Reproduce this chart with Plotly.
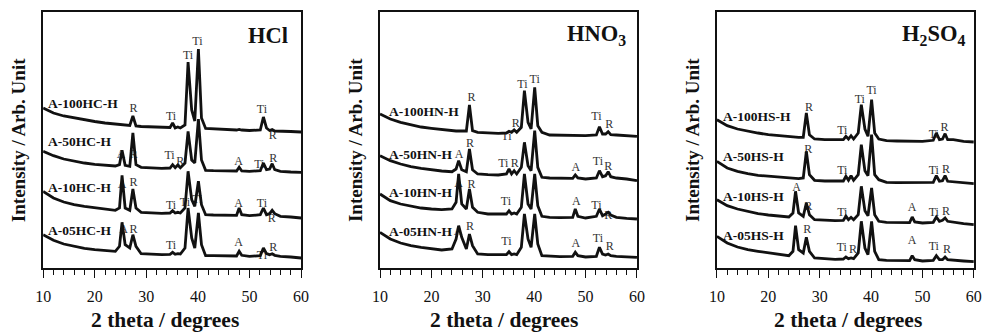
import plotly.graph_objects as go

# ---------------- data ----------------
two_theta = [10, 12, 14, 16, 18, 20, 22, 24, 24.8, 25.3, 25.9, 26.8, 27.4, 28, 29, 31, 33,
             34.6, 35.1, 35.6, 36.1, 36.6, 37.5, 38.1, 38.8, 39.4, 40.1, 40.7, 41.5, 43, 45,
             47.5, 48, 48.5, 50, 52.1, 52.7, 53.3, 53.9, 54.4, 54.9, 56, 58, 60]

hcl_100 = [160, 155, 152, 150, 148, 146.5, 145, 144, 143.5, 143.5, 143, 142.5, 152, 142, 141.5, 141, 140.5,
           140.5, 145, 140, 141, 140, 143, 206, 158, 147, 219, 150, 139.5, 139, 138.5,
           138, 138.5, 138, 137.5, 138, 151, 140, 137.5, 138.5, 137, 137, 136.5, 136]
hcl_50 = [116.7, 112.3, 109, 106.7, 105, 103.7, 102.7, 102, 103.3, 117.7, 102.7, 101.7, 135, 103.3, 100.7, 100, 99.7,
          100, 103.3, 100.3, 103, 100.3, 105, 136.7, 108, 105, 149, 108, 97.7, 97.3, 97,
          97, 100.7, 97, 96.7, 97.3, 105, 98.3, 99, 104.3, 98.3, 96.7, 96, 95.7]
hcl_10 = [76.7, 70, 66, 63.3, 61.7, 60.3, 59, 57.7, 60, 92.7, 60, 57.7, 79, 60, 55.7, 55, 54.7,
          55, 57.3, 55, 55.7, 55, 60, 96.7, 68.3, 61.7, 86.7, 63.3, 53.3, 53, 52.7,
          52.7, 60, 53.3, 52.3, 53.3, 60, 53.3, 54.3, 57.7, 54.3, 51.7, 51, 50]
hcl_05 = [33.3, 27.7, 24, 21.7, 19.7, 18.3, 17.3, 16.7, 21.7, 45.7, 23.3, 20, 33.3, 21.7, 14.3, 13.7, 13.3,
          13.7, 15.7, 13.7, 14.3, 14, 20, 60, 30, 20, 55, 23.3, 12.3, 12.3, 12,
          12, 16.7, 12.7, 11.7, 12.3, 20, 14.3, 13.3, 14.3, 12.7, 11.7, 11, 10]

hno3_100 = [154, 149, 145.7, 143, 141, 139.7, 138.3, 137.3, 137, 137, 137, 137, 163, 137.3, 135.7, 135, 134.7,
            135, 136.7, 135.7, 138, 135.7, 140.7, 177.3, 145.7, 139, 180.7, 142.3, 135.7, 133, 132.7,
            132.7, 133, 132.7, 132.3, 133, 141.3, 134, 134, 136.3, 133.3, 133, 132.3, 131.7]
hno3_50 = [112.3, 107.3, 104, 101.3, 99.7, 98.3, 97, 96.3, 99, 107.3, 98.3, 96.3, 119, 98.3, 94, 93.3, 93,
           94, 99, 94, 97.3, 94, 100.7, 125.7, 102.3, 97.3, 137.3, 100.7, 90.7, 90, 89.7,
           89.7, 93, 90, 89, 90, 97.3, 91.3, 92.3, 96.3, 91.3, 90, 89, 87.3]
hno3_10 = [74, 67.3, 64, 61.7, 60, 59, 58.3, 59, 65.7, 94, 64, 59, 79, 60.7, 55.7, 54, 53.7,
           54, 57.3, 54, 55, 54, 60.7, 94, 64, 59, 94, 62.3, 51.7, 50.7, 50.3,
           50.7, 59, 51.7, 50, 51.7, 59, 52.3, 54, 55.7, 53, 50.7, 49.7, 49]
hno3_05 = [35.7, 29, 25, 22.3, 20.7, 19, 18, 19, 29, 42.3, 30.7, 19, 34, 22.3, 14, 13.3, 13,
           13.3, 16.3, 13.3, 14, 13.3, 20.7, 54, 29, 20.7, 54, 24, 12.3, 11.7, 11.3,
           11.7, 15.7, 12.3, 11, 11.7, 20.7, 14, 13, 14, 12.3, 11.7, 11, 10.7]

h2so4_100 = [148.3, 142.3, 139, 136.7, 135, 133.3, 132.3, 131.3, 130.7, 130.7, 130.7, 130.7, 155, 133.3, 129, 128.3, 128,
             128.3, 131.7, 129, 132.3, 129, 135, 163.3, 139, 131.7, 168.3, 135, 129, 127.3, 127,
             127, 127, 127, 126.7, 127.7, 135, 128.3, 129, 134.3, 128.3, 128.3, 126.7, 126]
h2so4_50 = [106.7, 100, 96.7, 94.3, 92.7, 91.7, 90.7, 89.7, 89.3, 89.3, 89.3, 90, 116.7, 93.3, 87.7, 87, 86.7,
            87, 91.7, 87.7, 92.3, 87.7, 93.3, 123.3, 97.3, 92.3, 133.3, 93.3, 88.3, 85.7, 85.3,
            85.3, 85.3, 85.3, 85, 85.7, 92.3, 86.7, 87.3, 92.3, 86.7, 86.3, 85, 84.3]
h2so4_10 = [68.3, 62.3, 59, 56.3, 54.3, 53, 51.7, 51, 55, 76.7, 55, 51.7, 65, 53.3, 48.3, 47.7, 47.3,
            47.7, 51.7, 48.3, 50.7, 48.3, 53.3, 81.7, 57.3, 52.3, 80, 53.3, 46.7, 45.7, 45.3,
            45.3, 51, 46, 45, 45.7, 51, 46.7, 47.7, 50, 46.7, 45.7, 44.3, 43.3]
h2so4_05 = [31.7, 25, 21, 18.3, 16.7, 15, 13.3, 12.3, 16.7, 42.3, 18.3, 15, 30.7, 16.7, 10, 9, 8.7,
            9, 11, 9.3, 10, 9.3, 15, 46.7, 20, 13.3, 46.7, 16.7, 8.3, 7.7, 7.3,
            7.3, 12.3, 8.3, 7, 7.7, 12.3, 8.3, 8.3, 11, 8.3, 7.7, 7, 6.3]

panel_titles = ["HCl", "HNO<sub>3</sub>", "H<sub>2</sub>SO<sub>4</sub>"]
sample_names = [
    ["A-100HC-H", "A-50HC-H", "A-10HC-H", "A-05HC-H"],
    ["A-100HN-H", "A-50HN-H", "A-10HN-H", "A-05HN-H"],
    ["A-100HS-H", "A-50HS-H", "A-10HS-H", "A-05HS-H"],
]
panel_series = [
    [hcl_100, hcl_50, hcl_10, hcl_05],
    [hno3_100, hno3_50, hno3_10, hno3_05],
    [h2so4_100, h2so4_50, h2so4_10, h2so4_05],
]
x_ticks = [10, 20, 30, 40, 50, 60]

# peak assignments: (label, 2theta, intensity level)
peak_labels = [
    [("R", 27.5, 159), ("Ti", 34.8, 150.7), ("Ti", 38.1, 211.7), ("Ti", 39.9, 225.7), ("Ti", 52.4, 158), ("R", 54.5, 132.3),
     ("A", 25.1, 113.3), ("R", 27.5, 113), ("Ti", 34.5, 111.7), ("R", 36.6, 105.7), ("A", 47.9, 105.7), ("Ti", 51.9, 102.7), ("R", 54.6, 109.3),
     ("A", 25.3, 83.3), ("R", 27.5, 85), ("Ti", 34.8, 61.7), ("Ti", 37.5, 65), ("Ti", 39.9, 68), ("A", 47.9, 64.3), ("Ti", 52.4, 64.3), ("R", 54.3, 49.3),
     ("A", 25.6, 38.3), ("R", 27.5, 38.3), ("Ti", 34.8, 21.7), ("A", 47.9, 25), ("Ti", 52.4, 12), ("R", 54.6, 20)],
    [("R", 27.8, 169.7), ("Ti", 34.6, 130.7), ("R", 36.4, 144), ("Ti", 37.7, 183), ("Ti", 40.1, 188), ("Ti", 52.1, 150.7), ("R", 54.6, 143),
     ("A", 25.4, 113), ("R", 27.5, 124), ("Ti", 34.0, 104), ("R", 36.2, 104), ("A", 48.1, 99.7), ("Ti", 52.4, 106.3), ("R", 54.4, 100.7),
     ("A", 25.3, 84), ("R", 27.8, 83), ("Ti", 34.5, 65.7), ("A", 48.2, 65.7), ("Ti", 52.1, 62.3), ("R", 54.4, 52),
     ("A", 25.2, 35.7), ("R", 27.5, 40.7), ("Ti", 34.6, 25.7), ("A", 48.1, 24), ("Ti", 52.4, 29), ("R", 54.7, 20.7)],
    [("R", 27.9, 160), ("Ti", 34.4, 136.7), ("Ti", 37.8, 168.3), ("Ti", 40.1, 177.3), ("Ti", 52.2, 133.3), ("R", 54.3, 140),
     ("R", 27.8, 118.3), ("Ti", 34.4, 96.7), ("Ti", 52.2, 97.3), ("R", 54.6, 98.3),
     ("A", 25.5, 80), ("R", 27.8, 61), ("Ti", 34.4, 55), ("A", 48.0, 60), ("Ti", 52.2, 55), ("R", 54.6, 55.7),
     ("R", 27.6, 38.3), ("Ti", 34.3, 20), ("R", 36.5, 18.3), ("A", 48.0, 26.7), ("Ti", 52.2, 21), ("R", 54.8, 18.3)],
]
name_levels = [
    [165, 127, 81, 38],
    [157, 114, 76, 37],
    [152, 112, 72, 33],
]
name_x = [10.6, 11.3, 10.8]

# ---------------- layout geometry (pixels) ----------------
W, H = 982, 332
# the captured page is squeezed horizontally (x' = S*x + OFF); place elements so they land on target pixels
S, OFF = 0.984, 7.86


def hx(target_px):
    return (target_px - OFF) / S / W


plot_left = [43, 380, 717]
plot_right = [301, 637, 974]
plot_top, plot_bottom = 12, 268
ytitle_x = [18, 355, 692]
xtitle_x = [165, 504, 848]
title_x = [57.8, 58.3, 58.6]

SERIF = "Liberation Serif"
fig = go.Figure()
annotations = []

for i in range(3):
    xa = "x" if i == 0 else f"x{i+1}"
    ya = "y" if i == 0 else f"y{i+1}"
    # peak labels first (drawn beneath the curves)
    fig.add_trace(go.Scatter(
        x=[p[1] for p in peak_labels[i]], y=[p[2] for p in peak_labels[i]],
        text=[p[0] for p in peak_labels[i]], mode="text",
        textfont=dict(family=SERIF, size=12, color="#333"),
        xaxis=xa, yaxis=ya, showlegend=False, hoverinfo="skip", cliponaxis=False))
    for name, ser in zip(sample_names[i], panel_series[i]):
        fig.add_trace(go.Scatter(
            x=two_theta, y=ser, mode="lines", name=name,
            line=dict(color="#111", width=2.8), xaxis=xa, yaxis=ya,
            showlegend=False))
    for name, lev in zip(sample_names[i], name_levels[i]):
        annotations.append(dict(
            x=name_x[i], y=lev, xref=xa, yref=ya, text=f"<b>{name}</b>",
            showarrow=False, xanchor="left", yanchor="middle",
            font=dict(family=SERIF, size=13.5, color="#111")))
    annotations.append(dict(
        x=title_x[i], y=233, xref=xa, yref=ya, text=f"<b>{panel_titles[i]}</b>",
        showarrow=False, xanchor="right", yanchor="middle",
        font=dict(family=SERIF, size=22.5, color="#111")))
    annotations.append(dict(
        x=hx(ytitle_x[i]), y=(H - 140) / H, xref="paper", yref="paper",
        text="<b>Intensity / Arb. Unit</b>", textangle=-90, showarrow=False,
        xanchor="center", yanchor="middle",
        font=dict(family=SERIF, size=19, color="#111")))
    annotations.append(dict(
        x=hx(xtitle_x[i]), y=(H - 320) / H, xref="paper", yref="paper",
        text="<b>2 theta / degrees</b>", showarrow=False,
        xanchor="center", yanchor="middle",
        font=dict(family=SERIF, size=21.5, color="#111")))

    xaxis = dict(
        domain=[hx(plot_left[i]), min(1.0, hx(plot_right[i]))], anchor=ya,
        range=[10, 60], tickvals=x_ticks, ticktext=[str(t) for t in x_ticks],
        ticks="outside", ticklen=8, tickwidth=1.2, tickcolor="#111",
        minor=dict(tick0=10, dtick=2, ticks="outside", ticklen=5, tickwidth=1, tickcolor="#111"),
        showline=True, linecolor="#111", linewidth=1.5, mirror=True,
        showgrid=False, zeroline=False, ticklabelstandoff=5,
        tickfont=dict(family=SERIF, size=16, color="#111"))
    yaxis = dict(
        domain=[(H - plot_bottom) / H, (H - plot_top) / H], anchor=xa,
        range=[0, 256], showticklabels=False, ticks="",
        showline=True, linecolor="#111", linewidth=1.5, mirror=True,
        showgrid=False, zeroline=False)
    fig.update_layout({("xaxis" if i == 0 else f"xaxis{i+1}"): xaxis,
                       ("yaxis" if i == 0 else f"yaxis{i+1}"): yaxis})

fig.update_layout(
    width=W, height=H, margin=dict(l=0, r=0, t=0, b=0),
    paper_bgcolor="white", plot_bgcolor="white",
    annotations=annotations, showlegend=False)

fig.write_html("out.html")
